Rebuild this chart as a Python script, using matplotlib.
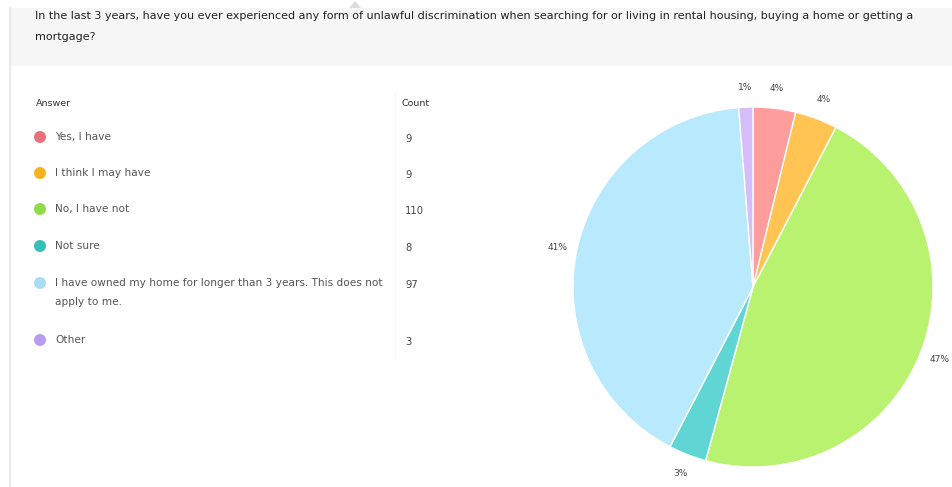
import matplotlib
matplotlib.use("Agg")
import matplotlib.pyplot as plt
from matplotlib.patches import Rectangle, Circle, Polygon

W, H = 952, 487

# ── Data ──────────────────────────────────────────────────────────────────────
QUESTION = ("In the last 3 years, have you ever experienced any form of unlawful discrimination "
            "when searching for or living in rental housing, buying a home or getting a\nmortgage?")
ANSWERS = ["Yes, I have", "I think I may have", "No, I have not", "Not sure",
           "I have owned my home for longer than 3 years. This does not\napply to me.", "Other"]
COUNTS = [9, 9, 110, 8, 97, 3]
DOT_COLORS = ["#ea6f7c", "#f5b320", "#8fdb4a", "#35c0b8", "#a9dcf2", "#b99cf0"]
PIE_COLORS = ["#ff9c9c", "#ffc451", "#b8f26e", "#5fd6d4", "#b8e9fc", "#d6bdfa"]
ROW_Y = [139, 175, 211, 248, 285, 342]

fig = plt.figure(figsize=(W / 100, H / 100), dpi=100)
bg = fig.add_axes([0, 0, 1, 1])
bg.set_xlim(0, W)
bg.set_ylim(H, 0)
bg.axis("off")

# ── Panel background ──────────────────────────────────────────────────────────
bg.add_patch(Rectangle((10, 8), W - 10, 58, color="#f6f6f6", lw=0))
bg.plot([10, 10], [8, H], color="#e4e4e4", lw=1.2)
bg.add_patch(Polygon([[349, 8], [355, 1], [361, 8]], closed=True, color="#dcdcdc", lw=0))
bg.plot([395, 395], [92, 360], color="#f7f7f7", lw=0.8)

bg.text(35, 11, QUESTION, fontsize=8.0, color="#222222", va="top", ha="left", linespacing=2.35)

# ── Table ─────────────────────────────────────────────────────────────────────
bg.text(36, 104, "Answer", fontsize=6.8, color="#333333", va="center")
bg.text(401, 104, "Count", fontsize=6.8, color="#333333", va="center")
for ans, cnt, col, y in zip(ANSWERS, COUNTS, DOT_COLORS, ROW_Y):
    bg.add_patch(Circle((40, y - 2), 6, color=col, lw=0))
    bg.text(55, y - 7, ans, fontsize=7.6, color="#555555", va="top", linespacing=2.1)
    bg.text(405, y, str(cnt), fontsize=7.2, color="#444444", va="center")

# ── Pie ───────────────────────────────────────────────────────────────────────
R = 180.0
cx, cy = 753, 287
xl, xr = -1.25, (W - cx) / R
yb, yt = -(H - cy) / R, 1.5
left_px = cx + xl * R
ax = fig.add_axes([left_px / W, 0, (xr - xl) * R / W, (yt - yb) * R / H])
wedges, texts, autotexts = ax.pie(
    COUNTS, colors=PIE_COLORS, startangle=90, counterclock=False,
    autopct=lambda p: f"{p:.0f}%", pctdistance=1.11,
    wedgeprops=dict(edgecolor="white", linewidth=1.0),
    textprops=dict(fontsize=6.5, color="#444444"),
)
ax.set_xlim(xl, xr)
ax.set_ylim(yb, yt)
ax.set_aspect("auto")
ax.axis("off")

fig.savefig("out.png", dpi=100, facecolor="white")
